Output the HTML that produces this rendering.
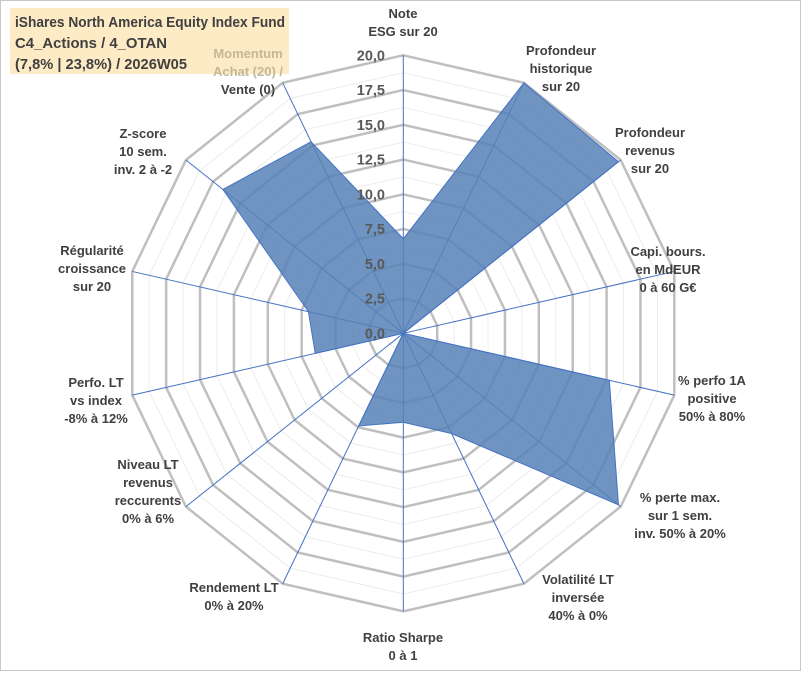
<!DOCTYPE html>
<html><head><meta charset="utf-8"><style>
body{margin:0;background:#fff;width:801px;height:671px;overflow:hidden;font-family:"Liberation Sans",Arial,sans-serif}
svg text{font-family:"Liberation Sans",Arial,sans-serif;font-weight:bold;font-size:13px;fill:#404040}
</style></head><body>
<svg width="801" height="671">
<rect x="0.5" y="0.5" width="800" height="670" fill="#fff" stroke="#c8c8c8"/>
<rect x="10" y="8" width="279" height="66" fill="#fcebc5"/>
<text x="15" y="27" textLength="270" lengthAdjust="spacingAndGlyphs" style="font-size:15px">iShares North America Equity Index Fund</text>
<text x="15" y="48" textLength="152" lengthAdjust="spacingAndGlyphs" style="font-size:15px">C4_Actions / 4_OTAN</text>
<text x="15" y="69" textLength="172" lengthAdjust="spacingAndGlyphs" style="font-size:15px">(7,8% | 23,8%) / 2026W05</text>
<g id="grid"></g>
<g id="spokes"></g>
<g id="series"></g>
<g id="ticks"></g>
<g id="cats"></g>
</svg>
<script>
const categories=[["Note","ESG sur 20"],["Profondeur","historique","sur 20"],["Profondeur","revenus","sur 20"],["Capi. bours.","en MdEUR","0 à 60 G€"],["% perfo 1A","positive","50% à 80%"],["% perte max.","sur 1 sem.","inv. 50% à 20%"],["Volatilité LT","inversée","40% à 0%"],["Ratio Sharpe","0 à 1"],["Rendement LT","0% à 20%"],["Niveau LT","revenus","reccurents","0% à 6%"],["Perfo. LT","vs index","-8% à 12%"],["Régularité","croissance","sur 20"],["Z-score","10 sem.","inv. 2 à -2"],["Momentum","Achat (20) /","Vente (0)"]];
const values=[6.8,20,19.8,0,15.2,19.8,8.0,6.4,7.4,0,6.5,7.0,16.6,15.3];
const tickLabels=["0,0","2,5","5,0","7,5","10,0","12,5","15,0","17,5","20,0"];
const labelPos=[[403,18],[561,55],[650,137],[668,256],[712,385],[680,502],[578,584],[403,642],[234,592],[148,469],[96,387],[92,255],[143,138],[248,58]];
const cx=403.3,cy=333.3,R=278,maxV=20,N=categories.length;
const NS="http://www.w3.org/2000/svg";
function ang(i){return i*2*Math.PI/N;}
function pt(i,v){const r=v/maxV*R;return [cx+r*Math.sin(ang(i)),cy-r*Math.cos(ang(i))];}
function mk(t,a,p){const e=document.createElementNS(NS,t);for(const k in a)e.setAttribute(k,a[k]);p.appendChild(e);return e;}
const grid=document.getElementById('grid');
for(let k=1;k<=16;k++){const v=k*1.25;const major=k%2===0;
 const el=mk('polygon',{points:categories.map((c,i)=>pt(i,v).join(',')).join(' '),fill:'none',stroke:major?'#bfbfbf':'#ececec','stroke-width':major?2.5:1},grid);
 
 }
const sp=document.getElementById('spokes');
categories.forEach((c,i)=>{const p=pt(i,maxV);const l=mk('line',{x1:cx,y1:cy,x2:p[0],y2:p[1],stroke:'#4472c4','stroke-width':1},sp);
 
 });
const ser=document.getElementById('series');
const poly=mk('polygon',{points:values.map((v,i)=>pt(i,v).join(',')).join(' '),fill:'#5681b6','fill-opacity':0.85,stroke:'#4472c4','stroke-width':1},ser);


const tk=document.getElementById('ticks');
tickLabels.forEach((t,k)=>{const y=cy-k*2.5/maxV*R;const e=mk('text',{x:385,y:y+5,'text-anchor':'end',style:'font-size:14.5px;fill:#595959'},tk);e.textContent=t;
 
 });
const cg=document.getElementById('cats');
categories.forEach((lines,i)=>{const [x,y]=labelPos[i];const t=mk('text',{x:x,y:y,'text-anchor':'middle'},cg);
 
 
 lines.forEach((s,j)=>{const ts=mk('tspan',{x:x,dy:j?18:0},t);ts.textContent=s;
  if(i===13&&j<2)ts.setAttribute('style','fill:#c4b898');});});
</script>
</body></html>
